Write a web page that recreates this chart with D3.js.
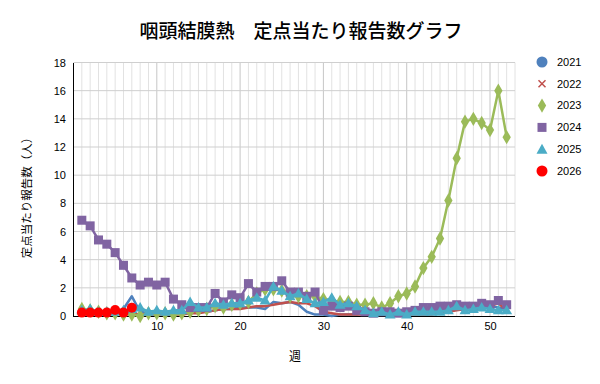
<!DOCTYPE html>
<html><head><meta charset="utf-8">
<script src="https://cdn.jsdelivr.net/npm/d3@7"></script>
<style>body{margin:0;background:#fff;}svg{display:block;font-family:"Noto Sans CJK JP","Noto Sans",sans-serif;}</style>
</head><body><svg id="c" width="600" height="384"></svg>
<script>
const title = "咽頭結膜熱　定点当たり報告数グラフ";
const yLabel = "定点当たり報告数（人）";
const xLabel = "週";
const years = ["2021","2022","2023","2024","2025","2026"];
const xTicks = [10,20,30,40,50];
const yTicks = [0,2,4,6,8,10,12,14,16,18];

const v2021 = [0.3,0.2,0.2,0.3,0.3,0.5,1.4,0.3,0.2,0.3,0.2,0.2,0.3,0.2,0.3,0.3,0.4,0.5,0.5,0.6,0.6,0.6,0.5,1.0,0.9,1.0,0.8,0.3,0.1,0.1,0.0,0.1,0.1,0.1,0.2,0.1,0.2,0.2,0.1,0.2,0.2,0.3,0.3,0.4,0.5,0.5,0.6,0.6,0.5,0.7,0.6,0.5];
const v2022 = [0.1,0.1,0.1,0.1,0.2,0.2,0.2,0.1,0.1,0.1,0.1,0.1,0.1,0.2,0.2,0.3,0.4,0.5,0.5,0.5,0.6,0.7,0.7,0.8,0.9,1.0,0.9,0.9,0.7,0.3,0.2,0.1,0.1,0.1,0.1,0.1,0.1,0.1,0.1,0.1,0.1,0.1,0.1,0.2,0.3,0.4,0.5,0.5,0.6,0.7,0.9,0.4];
const v2023 = [0.5,0.4,0.3,0.2,0.2,0.1,0.1,0.0,0.2,0.2,0.2,0.1,0.2,0.3,0.4,0.5,0.7,0.6,0.8,0.9,1.0,1.6,1.9,1.9,1.8,1.4,1.4,1.4,1.4,1.2,1.1,1.0,1.0,0.8,0.8,0.9,0.6,0.9,1.4,1.6,2.1,3.4,4.2,5.5,8.2,11.2,13.8,14.0,13.7,13.2,16.0,12.7];
const v2024 = [6.8,6.4,5.4,5.1,4.5,3.6,2.7,2.2,2.4,2.2,2.4,1.2,0.8,0.6,0.6,0.6,1.6,1.0,1.5,1.3,2.3,1.7,2.1,2.1,2.5,1.7,1.7,1.4,1.7,0.4,0.7,0.6,0.7,0.4,0.3,0.2,0.3,0.3,0.2,0.3,0.4,0.6,0.6,0.7,0.7,0.8,0.7,0.7,0.9,0.8,1.1,0.8];
const v2025 = [0.4,0.5,0.3,0.3,0.3,0.4,0.5,0.6,0.3,0.4,0.3,0.4,0.4,1.0,0.6,0.6,0.9,0.8,0.9,0.9,1.1,1.3,1.1,2.1,1.8,1.4,1.6,1.2,0.9,1.0,1.3,0.8,0.9,0.7,0.4,0.2,0.3,0.1,0.3,0.1,0.3,0.3,0.3,0.3,0.4,0.7,0.4,0.5,0.6,0.5,0.4,0.4];
const v2026 = [0.24,0.24,0.24,0.24,0.43,0.24,0.59];

const colors = ["#4F81BD","#C0504D","#9BBB59","#8064A2","#4BACC6","#FF0000"];
const markers = ["circle","x","diamond","square","triangle","bigcircle"];
const seriesVals = [v2021,v2022,v2023,v2024,v2025,v2026];

const svg = d3.select("#c");
const L = 73.5, R = 515, T = 62.5, B = 316;
const x = d3.scaleLinear().domain([0,53]).range([L,R]);
const y = d3.scaleLinear().domain([0,18]).range([B,T]);

const g = svg.append("g");
g.selectAll("line.vmin").data(d3.range(1,54)).join("line")
  .attr("x1",d=>x(d)).attr("x2",d=>x(d)).attr("y1",T).attr("y2",B)
  .attr("stroke",d=>d%10===0?"#c6c6c6":"#e2e2e2").attr("stroke-width",1);
g.selectAll("line.h").data(yTicks.filter(d=>d>0)).join("line")
  .attr("x1",L).attr("x2",R).attr("y1",d=>y(d)).attr("y2",d=>y(d))
  .attr("stroke","#cfcfcf").attr("stroke-width",1);

const ya = svg.append("g").attr("transform",`translate(${L-0.5},0)`)
  .call(d3.axisLeft(y).tickValues(yTicks).tickSize(0).tickPadding(7));
ya.select(".domain").attr("stroke","#000");
ya.selectAll("text").attr("font-size",11).attr("fill","#000").attr("font-family","Liberation Sans, Arial, sans-serif");
const xa = svg.append("g").attr("transform",`translate(0,${B})`)
  .call(d3.axisBottom(x).tickValues(xTicks).tickSize(0).tickPadding(6));
xa.select(".domain").attr("stroke","#000").attr("d",`M${L-0.5},0.5H${R}`);
xa.selectAll("text").attr("font-size",11).attr("fill","#000").attr("font-family","Liberation Sans, Arial, sans-serif");

const line = d3.line().x((d,i)=>x(i+1)).y(d=>y(d));
function drawMarker(sel, type, color){
  if(type==="diamond") sel.append("path").attr("d",d3.symbol(d3.symbolDiamond,60)()).attr("fill",color);
  else if(type==="square") sel.append("rect").attr("x",-4.5).attr("y",-4.5).attr("width",9).attr("height",9).attr("fill",color);
  else if(type==="triangle") sel.append("path").attr("d","M0,-5.5L5.5,4L-5.5,4Z").attr("fill",color);
  else if(type==="bigcircle") sel.append("circle").attr("r",5).attr("fill",color);
}
seriesVals.forEach((vals,k)=>{
  const sg = svg.append("g");
  sg.append("path").datum(vals).attr("d",line).attr("fill","none")
    .attr("stroke",colors[k]).attr("stroke-width",2.5).attr("stroke-linejoin","round");
  if(k>=2){
    sg.selectAll("g.m").data(vals).join("g").attr("transform",(d,i)=>`translate(${x(i+1)},${y(d)})`)
      .each(function(){ drawMarker(d3.select(this), markers[k], colors[k]); });
  }
});

const lg = svg.append("g");
years.forEach((yr,k)=>{
  const cy = 62 + k*21.8;
  const m = lg.append("g").attr("transform",`translate(542,${cy})`);
  const t = markers[k];
  if(t==="circle") m.append("circle").attr("r",5.5).attr("fill",colors[k]);
  else if(t==="x"){ m.append("path").attr("d","M-3.5,-3.5L3.5,3.5M-3.5,3.5L3.5,-3.5").attr("stroke",colors[k]).attr("stroke-width",1.5); }
  else if(t==="diamond") m.append("path").attr("d",d3.symbol(d3.symbolDiamond,60)()).attr("fill",colors[k]);
  else if(t==="square") m.append("rect").attr("x",-4.5).attr("y",-4.5).attr("width",9).attr("height",9).attr("fill",colors[k]);
  else if(t==="triangle") m.append("path").attr("d","M0,-5.5L5.5,4.5L-5.5,4.5Z").attr("fill",colors[k]);
  else m.append("circle").attr("r",5.5).attr("fill",colors[k]);
  lg.append("text").attr("x",557).attr("y",cy).attr("dy","0.35em").attr("font-size",11)
    .attr("font-family","Liberation Sans, Arial, sans-serif").text(yr);
});

svg.append("text").attr("x",301).attr("y",31).attr("dy","0.35em").attr("text-anchor","middle")
  .attr("font-size",19).attr("font-weight",500).text(title);
svg.append("text").attr("transform","translate(27,195) rotate(-90)").attr("dy","0.35em")
  .attr("text-anchor","middle").attr("font-size",11.5).text(yLabel);
svg.append("text").attr("x",295).attr("y",357).attr("dy","0.35em").attr("text-anchor","middle")
  .attr("font-size",12).text(xLabel);
</script></body></html>
